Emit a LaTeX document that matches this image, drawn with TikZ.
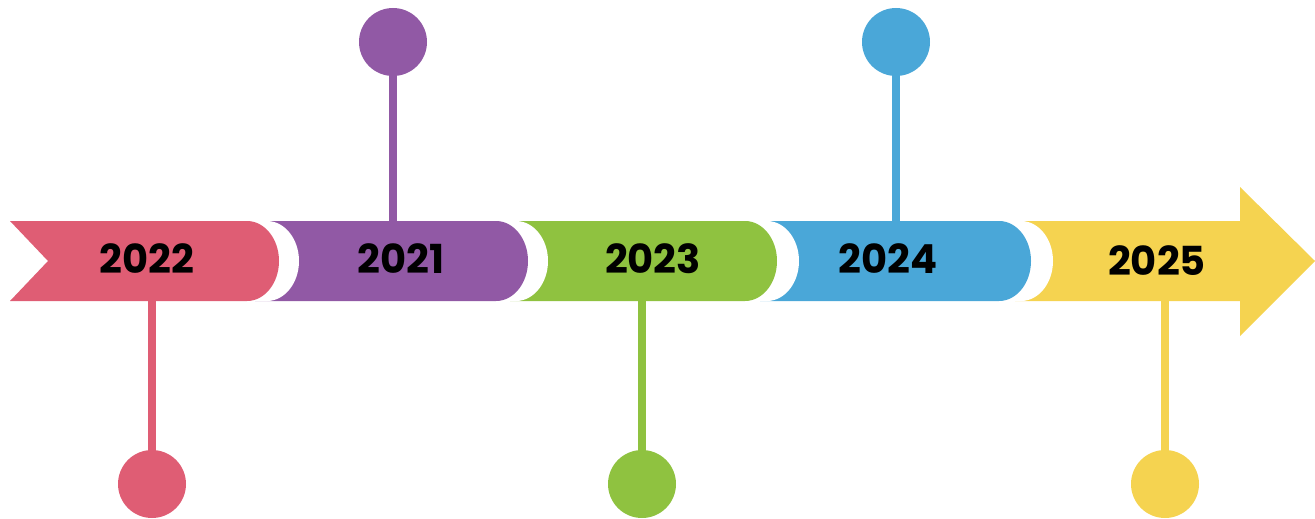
\documentclass[tikz,border=0pt]{standalone}
\usepackage{fontspec}
\setmainfont{Poppins}[BoldFont={* Bold}]
\definecolor{cpink}{RGB}{223,93,116}
\definecolor{cpurple}{RGB}{145,89,165}
\definecolor{cgreen}{RGB}{143,194,64}
\definecolor{cblue}{RGB}{74,167,216}
\definecolor{cyellow}{RGB}{245,211,80}
\tikzset{
  yearlabel/.style={font=\fontsize{40}{40}\selectfont\bfseries, text=black, inner sep=0pt, anchor=center},
  stemline/.style={line width=7.5pt},
  dotnode/.style={circle, minimum size=68pt, inner sep=0pt},
}
% rounded-end bar: start x, end x (extreme)
\newcommand{\rbar}[3]{%
  \fill[#3] (#1,221) -- ({#2-32},221) arc[start angle=-90,end angle=90,x radius=32,y radius=40] -- (#1,301) -- cycle;}
\begin{document}
\begin{tikzpicture}[x=1pt,y=-1pt]
\useasboundingbox (0,0) rectangle (1315,519);
% yellow arrow
\fill[cyellow] (1015,221) -- (1240,221) -- (1240,187) -- (1315,261) -- (1240,336) -- (1240,301) -- (1015,301) -- cycle;
% blue
\rbar{1010}{1053}{white}
\rbar{760}{1031}{cblue}
% green
\rbar{757}{799}{white}
\rbar{510}{777}{cgreen}
% purple
\rbar{505}{548}{white}
\rbar{255}{528}{cpurple}
% pink
\rbar{255}{299}{white}
\fill[cpink] (10,221) -- (247,221) arc[start angle=-90,end angle=90,x radius=32,y radius=40] -- (10,301) -- (48,261) -- cycle;
% labels
\node[yearlabel] (y22) at (147,259) {2022};
\node[yearlabel] (y21) at (401,259) {2021};
\node[yearlabel] (y23) at (653,259) {2023};
\node[yearlabel] (y24) at (888,259) {2024};
\node[yearlabel] (y25) at (1157,261) {2025};
% anchor coordinates on band
\coordinate (b22) at (152,301);
\coordinate (b21) at (393,221);
\coordinate (b23) at (642,301);
\coordinate (b24) at (896,221);
\coordinate (b25) at (1165,301);
% dots
\node[dotnode, fill=cpink] (d22) at (152,484) {};
\node[dotnode, fill=cpurple] (d21) at (393,42) {};
\node[dotnode, fill=cgreen] (d23) at (642,484) {};
\node[dotnode, fill=cblue] (d24) at (896,42) {};
\node[dotnode, fill=cyellow] (d25) at (1165,484) {};
% stems
\draw[stemline, cpink] (b22) -- (d22.center);
\draw[stemline, cpurple] (b21) -- (d21.center);
\draw[stemline, cgreen] (b23) -- (d23.center);
\draw[stemline, cblue] (b24) -- (d24.center);
\draw[stemline, cyellow] (b25) -- (d25.center);
\end{tikzpicture}
\end{document}
